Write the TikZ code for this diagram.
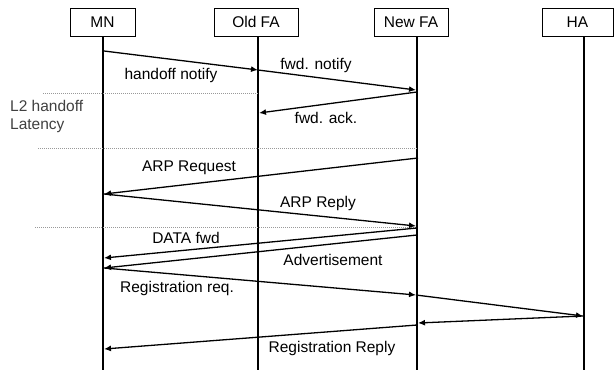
\documentclass[tikz,border=0pt]{standalone}
\usepackage{fontspec}
\setmainfont{Liberation Sans}
\usetikzlibrary{arrows.meta}
\begin{document}
\begin{tikzpicture}[x=1pt,y=-1pt,
  font=\fontsize{15.5}{18}\selectfont,
  entity/.style={draw, line width=0.8pt, minimum height=28pt, inner sep=0pt},
  lifeline/.style={line width=2pt},
  msg/.style={line width=1.3pt, -{Latex[length=7pt,width=6pt]}},
  sep/.style={draw=gray!80, line width=1pt, densely dotted},
  lbl/.style={inner sep=0pt, anchor=center}]
\useasboundingbox (0,0) rectangle (616,370);
% entity boxes
\node[entity, minimum width=65pt] (mn) at (102.5,22) {MN};
\node[entity, minimum width=84pt] (ofa) at (256,22) {Old FA};
\node[entity, minimum width=74pt] (nfa) at (411,22) {New FA};
\node[entity, minimum width=71pt] (ha) at (577.5,22) {HA};
% lifeline ends
\coordinate (mnT) at (103,36);  \coordinate (mnB) at (103,370);
\coordinate (ofT) at (258,36);  \coordinate (ofB) at (258,370);
\coordinate (nfT) at (417,36);  \coordinate (nfB) at (417,370);
\coordinate (haT) at (584,36);  \coordinate (haB) at (584,370);
\draw[lifeline] (mnT) -- (mnB);
\draw[lifeline] (ofT) -- (ofB);
\draw[lifeline] (nfT) -- (nfB);
\draw[lifeline] (haT) -- (haB);
% separators
\coordinate (s1a) at (43,93);  \coordinate (s1b) at (258,93);
\coordinate (s2a) at (38,148); \coordinate (s2b) at (417,148);
\coordinate (s3a) at (35,227); \coordinate (s3b) at (417,227);
\draw[sep] (s1a) -- (s1b);
\draw[sep] (s2a) -- (s2b);
\draw[sep] (s3a) -- (s3b);
% message end points
\coordinate (m1a) at (104,51);  \coordinate (m1b) at (258,70);
\coordinate (m2b) at (416,90);
\coordinate (m3a) at (417,92);  \coordinate (m3b) at (259,113);
\coordinate (m4a) at (418,158); \coordinate (m4b) at (104,194);
\coordinate (m5b) at (416,226);
\coordinate (m6a) at (417,228); \coordinate (m6b) at (104,258);
\coordinate (m7a) at (417,235); \coordinate (m7b) at (104,268);
\coordinate (m8b) at (416,295);
\coordinate (m9b) at (583,316);
\coordinate (m10b) at (418,323);
\coordinate (m11a) at (417,325); \coordinate (m11b) at (104,349);
\draw[msg] (m1a) -- (m1b);
\draw[msg] (m1b) -- (m2b);
\draw[msg] (m3a) -- (m3b);
\draw[msg] (m4a) -- (m4b);
\draw[msg] (m4b) -- (m5b);
\draw[msg] (m6a) -- (m6b);
\draw[msg] (m7a) -- (m7b);
\draw[msg] (m7b) -- (m8b);
\draw[msg] (m8b) -- (m9b);
\draw[msg] (m9b) -- (m10b);
\draw[msg] (m11a) -- (m11b);
% labels
\node[lbl] (l1) at (171,75) {handoff notify};
\node[lbl] (l2) at (316,65) {fwd. notify};
\node[lbl] (l3) at (326,118) {fwd. ack.};
\node[lbl, anchor=west, text=black!75, align=left] (l4) at (10,116) {L2 handoff\\Latency};
\node[lbl] (l5) at (189,168) {ARP Request};
\node[lbl] (l6) at (318,203) {ARP Reply};
\node[lbl] (l7) at (186,238) {DATA fwd};
\node[lbl] (l8) at (333,260) {Advertisement};
\node[lbl] (l9) at (177,288) {Registration req.};
\node[lbl] (l10) at (332,348) {Registration Reply};
\end{tikzpicture}
\end{document}
